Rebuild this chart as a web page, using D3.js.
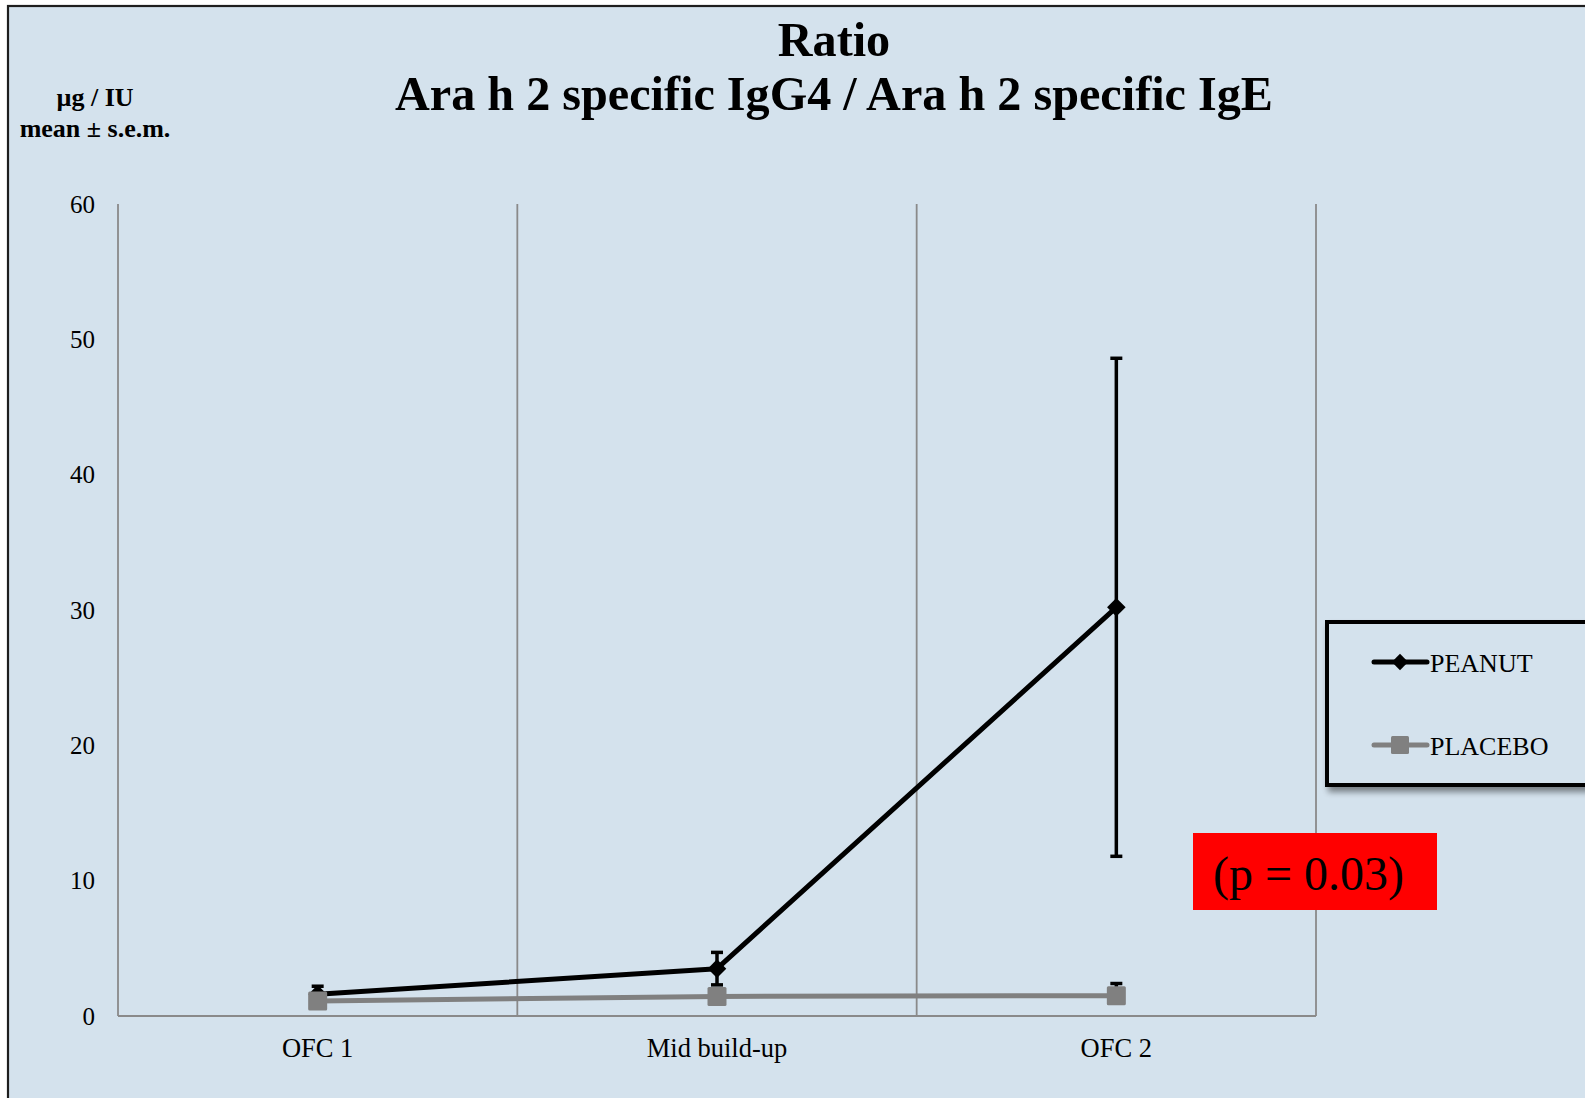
<!DOCTYPE html>
<html>
<head>
<meta charset="utf-8">
<script src="https://cdn.jsdelivr.net/npm/d3@7/dist/d3.min.js"></script>
<style>
  html, body { margin: 0; padding: 0; background: #ffffff; }
  svg { display: block; }
  text { font-family: "Liberation Serif", "Times New Roman", serif; fill: #000; }
</style>
</head>
<body>
<div id="chart"></div>
<script>
// Time points on the x axis
const categories = ["OFC 1", "Mid build-up", "OFC 2"];

// Ara h 2 sIgG4 / sIgE ratio, mean and s.e.m. per group
const peanutMean = [1.6, 3.5, 30.2];
const peanutSem = [0.6, 1.2, 18.4];
const placeboMean = [1.1, 1.45, 1.5];
const placeboSem = [0.3, 0.4, 0.9];

const seriesNames = ["PEANUT", "PLACEBO"];
const yTicks = [0, 10, 20, 30, 40, 50, 60];

const titleLines = ["Ratio", "Ara h 2 specific IgG4 / Ara h 2 specific IgE"];
const unitLines = ["µg / IU", "mean ± s.e.m."];
const pValueText = "(p = 0.03)";

const W = 1585, H = 1098;
const plot = { left: 118, right: 1316, top: 204, bottom: 1016 };

const svg = d3.select("#chart").append("svg")
  .attr("width", W).attr("height", H);

const defs = svg.append("defs");
const shadow = defs.append("filter").attr("id", "legendShadow")
  .attr("x", "-10%").attr("y", "-10%").attr("width", "130%").attr("height", "140%");
shadow.append("feGaussianBlur").attr("in", "SourceAlpha").attr("stdDeviation", 3);
shadow.append("feOffset").attr("dx", 3).attr("dy", 5).attr("result", "off");
shadow.append("feComponentTransfer").append("feFuncA").attr("type", "linear").attr("slope", 0.45);
const merge = shadow.append("feMerge");
merge.append("feMergeNode");
merge.append("feMergeNode").attr("in", "SourceGraphic");

// Chart area background with its frame
svg.append("rect")
  .attr("x", 8).attr("y", 6).attr("width", W + 20).attr("height", H + 20)
  .attr("fill", "#d4e2ed").attr("stroke", "#1e1e1e").attr("stroke-width", 2.2);

const x = d3.scaleBand().domain(categories).range([plot.left, plot.right]).padding(0);
const y = d3.scaleLinear().domain([0, 60]).range([plot.bottom, plot.top]);
const cx = c => x(c) + x.bandwidth() / 2;

// Vertical gridlines at category boundaries
const edges = categories.map(c => x(c)).concat([x(categories[categories.length - 1]) + x.bandwidth()]);
svg.append("g").selectAll("line").data(edges).join("line")
  .attr("x1", d => d).attr("x2", d => d)
  .attr("y1", y(60)).attr("y2", y(0))
  .attr("stroke", "#8a8a8a").attr("stroke-width", 1.8);

// x axis line
svg.append("line")
  .attr("x1", plot.left).attr("x2", plot.right)
  .attr("y1", y(0)).attr("y2", y(0))
  .attr("stroke", "#8a8a8a").attr("stroke-width", 2);

// y axis tick labels
const yAxis = d3.axisLeft(y).tickValues(yTicks).tickSize(0).tickPadding(23);
const yg = svg.append("g").attr("transform", `translate(${plot.left},0)`).call(yAxis);
yg.select(".domain").remove();
yg.selectAll("text").attr("font-size", 25).attr("font-family", "Liberation Serif").attr("fill", "#000");

// x axis labels
const xAxis = d3.axisBottom(x).tickSize(0).tickPadding(22);
const xg = svg.append("g").attr("transform", `translate(0,${plot.bottom})`).call(xAxis);
xg.select(".domain").remove();
xg.selectAll("text").attr("font-size", 26.5).attr("font-family", "Liberation Serif").attr("fill", "#000");

const line = d3.line().x((d, i) => cx(categories[i])).y(d => y(d));

// Vertical error bars with caps; `minus` adds the lower half
function errorBars(g, means, sems, minus) {
  const eb = g.append("g").selectAll("g").data(means).join("g");
  const lo = (d, i) => minus ? d - sems[i] : d;
  eb.append("line")
    .attr("x1", (d, i) => cx(categories[i])).attr("x2", (d, i) => cx(categories[i]))
    .attr("y1", (d, i) => y(d + sems[i])).attr("y2", (d, i) => y(lo(d, i)))
    .attr("stroke", "#000").attr("stroke-width", 3.5);
  const caps = minus ? [1, -1] : [1];
  caps.forEach(s => {
    eb.append("line")
      .attr("x1", (d, i) => cx(categories[i]) - 6).attr("x2", (d, i) => cx(categories[i]) + 6)
      .attr("y1", (d, i) => y(d + s * sems[i])).attr("y2", (d, i) => y(d + s * sems[i]))
      .attr("stroke", "#000").attr("stroke-width", 3.5);
  });
}

// PEANUT series
const gPeanut = svg.append("g");
gPeanut.append("path").datum(peanutMean)
  .attr("d", line).attr("fill", "none").attr("stroke", "#000").attr("stroke-width", 5)
  .attr("stroke-linejoin", "round");
errorBars(gPeanut, peanutMean, peanutSem, true);
gPeanut.append("g").selectAll("path").data(peanutMean).join("path")
  .attr("d", d3.symbol(d3.symbolDiamond2, 220))
  .attr("transform", (d, i) => `translate(${cx(categories[i])},${y(d)})`)
  .attr("fill", "#000");

// PLACEBO series
const gPlacebo = svg.append("g");
gPlacebo.append("path").datum(placeboMean)
  .attr("d", line).attr("fill", "none").attr("stroke", "#808080").attr("stroke-width", 5)
  .attr("stroke-linejoin", "round");
errorBars(gPlacebo, placeboMean, placeboSem, false);
gPlacebo.append("g").selectAll("rect").data(placeboMean).join("rect")
  .attr("x", (d, i) => cx(categories[i]) - 9.5).attr("y", d => y(d) - 9.5)
  .attr("width", 19).attr("height", 19).attr("rx", 1.5)
  .attr("fill", "#808080");

// Title
const title = svg.append("g");
title.selectAll("text").data(titleLines).join("text")
  .attr("x", 834).attr("y", (d, i) => i === 0 ? 56 : 110)
  .attr("text-anchor", "middle").attr("font-weight", "bold").attr("font-size", 48.2)
  .text(d => d);

// Unit label
svg.append("g").selectAll("text").data(unitLines).join("text")
  .attr("x", 95).attr("y", (d, i) => i === 0 ? 106 : 137)
  .attr("text-anchor", "middle").attr("font-weight", "bold").attr("font-size", 26)
  .text(d => d);

// Legend
const legend = svg.append("g");
legend.append("rect")
  .attr("x", 1327).attr("y", 622).attr("width", 300).attr("height", 163)
  .attr("fill", "#d4e2ed").attr("stroke", "#000").attr("stroke-width", 4)
  .attr("filter", "url(#legendShadow)");
const legendRows = [
  { name: seriesNames[0], color: "#000", marker: "diamond", yy: 662 },
  { name: seriesNames[1], color: "#808080", marker: "square", yy: 745 }
];
legendRows.forEach(r => {
  legend.append("line").attr("x1", 1374).attr("x2", 1427).attr("y1", r.yy).attr("y2", r.yy)
    .attr("stroke", r.color).attr("stroke-width", 5).attr("stroke-linecap", "round");
  if (r.marker === "diamond") {
    legend.append("path").attr("d", d3.symbol(d3.symbolDiamond2, 170))
      .attr("transform", `translate(1400,${r.yy})`).attr("fill", r.color);
  } else {
    legend.append("rect").attr("x", 1391).attr("y", r.yy - 9).attr("width", 18).attr("height", 18)
      .attr("rx", 1.5).attr("fill", r.color);
  }
  legend.append("text").attr("x", 1430).attr("y", r.yy + 10)
    .attr("font-size", 26).text(r.name);
});

// p-value annotation
svg.append("rect").attr("x", 1193).attr("y", 833).attr("width", 244).attr("height", 77)
  .attr("fill", "#ff0000");
svg.append("text").attr("x", 1213).attr("y", 890).attr("font-size", 48).text(pValueText);
</script>
</body>
</html>
